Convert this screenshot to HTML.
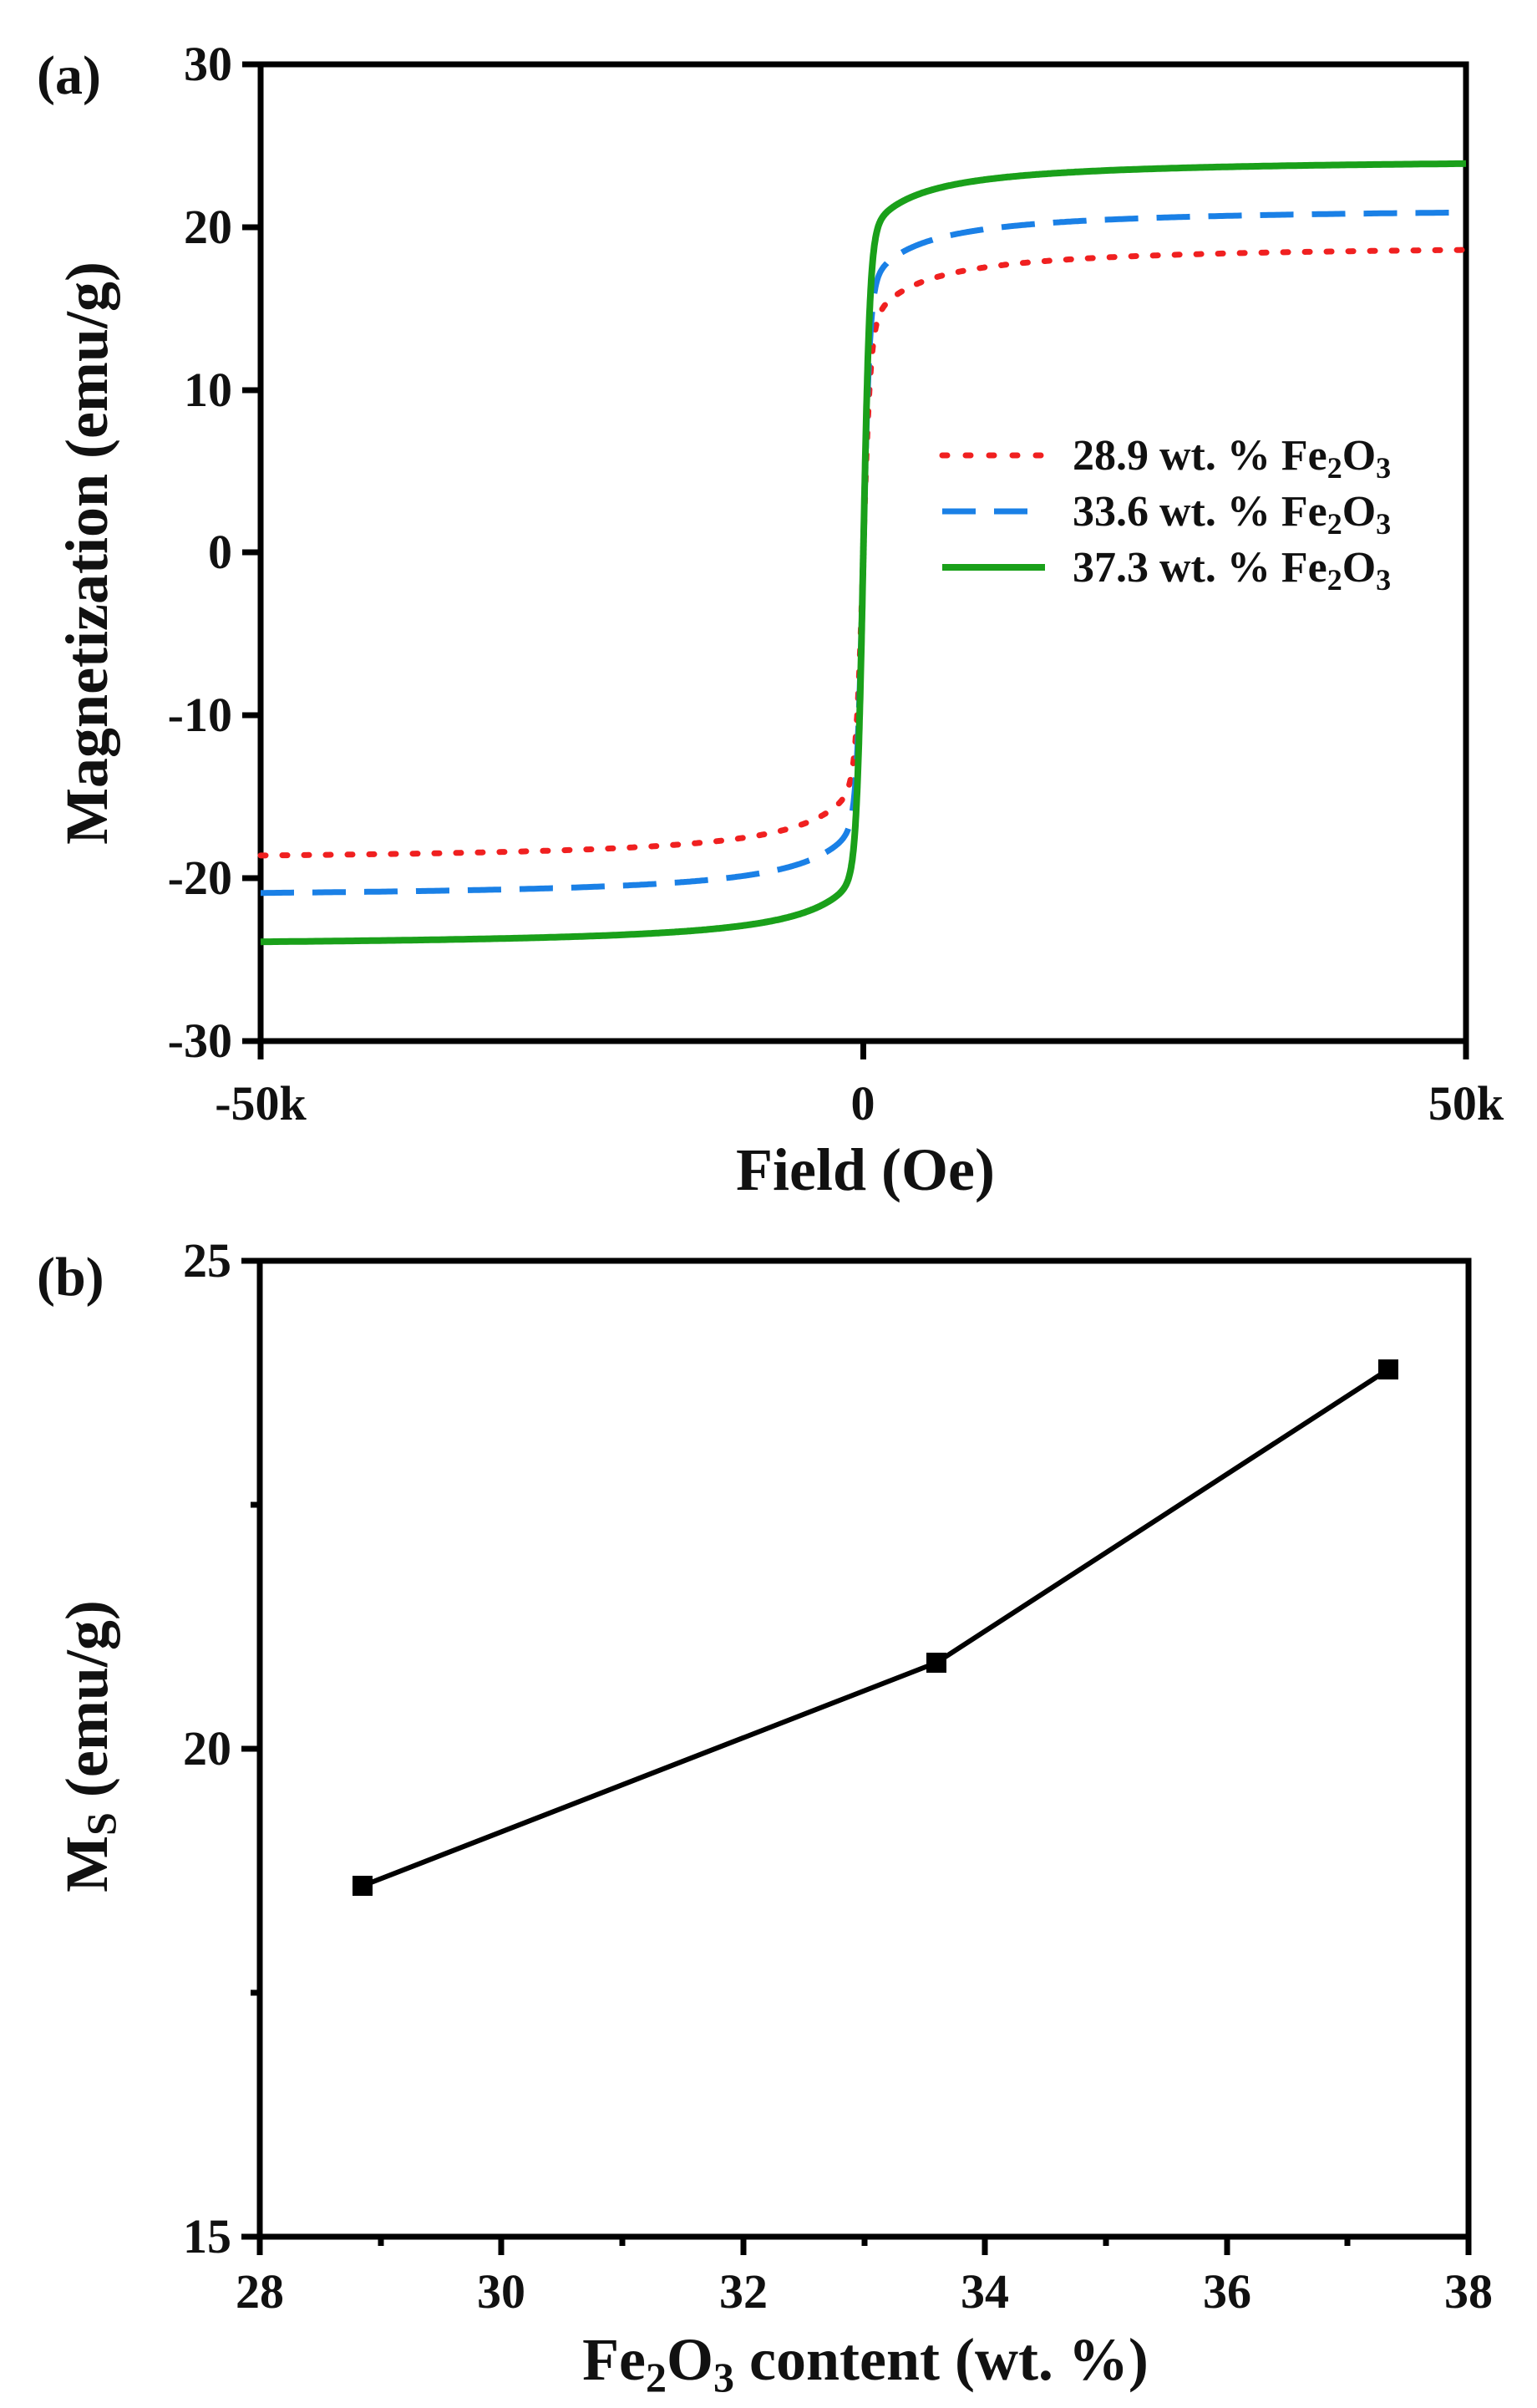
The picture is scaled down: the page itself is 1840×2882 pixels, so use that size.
<!DOCTYPE html>
<html><head><meta charset="utf-8"><style>
html,body{margin:0;padding:0;background:#fff;}
svg{display:block;}
text{font-family:"Liberation Serif","Times New Roman",Times,"Nimbus Roman","DejaVu Serif",serif;font-weight:bold;fill:#111;}
</style></head><body>
<svg id="s" width="1840" height="2882" viewBox="0 0 1840 2882" xmlns="http://www.w3.org/2000/svg" font-family="Liberation Serif, Times New Roman, serif">
<rect width="1840" height="2882" fill="#fff"/>
<text x="44" y="112" font-size="66" fill="#333">(a)</text>
<text x="44" y="1550" font-size="66" fill="#333">(b)</text>
<g stroke="#000" stroke-width="7" fill="none">
<rect x="312" y="77" width="1443" height="1169"/>
<line x1="290" y1="77" x2="312" y2="77"/><line x1="290" y1="272" x2="312" y2="272"/><line x1="290" y1="467" x2="312" y2="467"/><line x1="290" y1="661" x2="312" y2="661"/><line x1="290" y1="856" x2="312" y2="856"/><line x1="290" y1="1051" x2="312" y2="1051"/><line x1="290" y1="1246" x2="312" y2="1246"/>
<line x1="312" y1="1246" x2="312" y2="1268"/><line x1="1033.5" y1="1246" x2="1033.5" y2="1268"/><line x1="1755" y1="1246" x2="1755" y2="1268"/>
</g>
<g font-size="58" text-anchor="end">
<text x="278" y="96">30</text><text x="278" y="291">20</text><text x="278" y="486">10</text><text x="278" y="680">0</text><text x="278" y="875">-10</text><text x="278" y="1070">-20</text><text x="278" y="1265">-30</text>
</g>
<g font-size="58" text-anchor="middle">
<text x="312" y="1340">-50k</text><text x="1033" y="1340">0</text><text x="1755" y="1340">50k</text>
</g>
<text x="1036" y="1424" font-size="72" text-anchor="middle">Field (Oe)</text>
<text transform="translate(128,662) rotate(-90)" font-size="72" text-anchor="middle">Magnetization (emu/g)</text>
<g id="curves"></g>
<line x1="1128" y1="545" x2="1251" y2="545" stroke="#f02020" stroke-width="7" stroke-dasharray="6,22" stroke-linecap="round"/>
<line x1="1128" y1="612" x2="1251" y2="612" stroke="#1a80e6" stroke-width="7" stroke-dasharray="40,22"/>
<line x1="1128" y1="679" x2="1251" y2="679" stroke="#1aa01a" stroke-width="8"/>
<g font-size="52">
<text x="1284" y="562">28.9 wt. % Fe<tspan font-size="36" dy="10">2</tspan><tspan dy="-10">O</tspan><tspan font-size="36" dy="10">3</tspan></text>
<text x="1284" y="629">33.6 wt. % Fe<tspan font-size="36" dy="10">2</tspan><tspan dy="-10">O</tspan><tspan font-size="36" dy="10">3</tspan></text>
<text x="1284" y="696">37.3 wt. % Fe<tspan font-size="36" dy="10">2</tspan><tspan dy="-10">O</tspan><tspan font-size="36" dy="10">3</tspan></text>
</g>
<g stroke="#000" stroke-width="7" fill="none">
<rect x="311" y="1509" width="1447" height="1168"/>
<line x1="289" y1="1509" x2="311" y2="1509"/><line x1="289" y1="2093" x2="311" y2="2093"/><line x1="289" y1="2677" x2="311" y2="2677"/>
<line x1="300" y1="1801" x2="311" y2="1801"/><line x1="300" y1="2385" x2="311" y2="2385"/>
<line x1="311" y1="2677" x2="311" y2="2699"/><line x1="600" y1="2677" x2="600" y2="2699"/><line x1="890" y1="2677" x2="890" y2="2699"/><line x1="1179" y1="2677" x2="1179" y2="2699"/><line x1="1469" y1="2677" x2="1469" y2="2699"/><line x1="1758" y1="2677" x2="1758" y2="2699"/>
<line x1="456" y1="2677" x2="456" y2="2688"/><line x1="745" y1="2677" x2="745" y2="2688"/><line x1="1035" y1="2677" x2="1035" y2="2688"/><line x1="1324" y1="2677" x2="1324" y2="2688"/><line x1="1613" y1="2677" x2="1613" y2="2688"/>
</g>
<g font-size="58" text-anchor="end">
<text x="277" y="1528">25</text><text x="277" y="2112">20</text><text x="277" y="2696">15</text>
</g>
<g font-size="58" text-anchor="middle">
<text x="311" y="2762">28</text><text x="600" y="2762">30</text><text x="890" y="2762">32</text><text x="1179" y="2762">34</text><text x="1469" y="2762">36</text><text x="1758" y="2762">38</text>
</g>
<text x="1036" y="2848" font-size="72" text-anchor="middle">Fe<tspan font-size="50" dy="14">2</tspan><tspan dy="-14">O</tspan><tspan font-size="50" dy="14">3</tspan><tspan dy="-14"> content (wt. %)</tspan></text>
<text transform="translate(128,2090) rotate(-90)" font-size="72" text-anchor="middle">M<tspan font-size="50" dy="10">S</tspan><tspan dy="-10"> (emu/g)</tspan></text>
<polyline points="434,2257 1121,1990 1662,1639" fill="none" stroke="#000" stroke-width="6"/>
<g fill="#000">
<rect x="422" y="2245" width="24" height="24"/><rect x="1109" y="1978" width="24" height="24"/><rect x="1650" y="1627" width="24" height="24"/>
</g>
</svg>
<script>
(function(){
var g=document.getElementById('curves');
var ser=[[18.6,0.72,600,'#f02020','6,20',7,'round'],[20.9,0.76,550,'#1a80e6','40,22',7,'butt'],[23.9,0.8,550,'#1aa01a','',8,'butt']];
function X(h){return 1033.5+h*1443/100000;}
function Y(m){return 661.5-m*1169/60;}
ser.forEach(function(s){
 var d='',first=true;
 for(var i=0;i<=800;i++){
  var t=-1+2*i/800; var h=Math.sign(t)*Math.pow(Math.abs(t),2.2)*50000;
  var a=Math.abs(h);
  var f2=a/(a+3500);
  var f=s[1]*Math.tanh(h/s[2])+(1-s[1])*Math.sign(h)*f2*(a>0?1:0)*1.07;
  if(Math.abs(f)>1)f=Math.sign(f);
  d+=(first?'M':'L')+X(h).toFixed(1)+','+Y(s[0]*f).toFixed(1);first=false;
 }
 var p=document.createElementNS('http://www.w3.org/2000/svg','path');
 p.setAttribute('d',d);p.setAttribute('fill','none');p.setAttribute('stroke',s[3]);
 p.setAttribute('stroke-width',s[5]);if(s[4])p.setAttribute('stroke-dasharray',s[4]);
 p.setAttribute('stroke-linecap',s[6]);
 g.appendChild(p);
});
})();
</script>
</body></html>
